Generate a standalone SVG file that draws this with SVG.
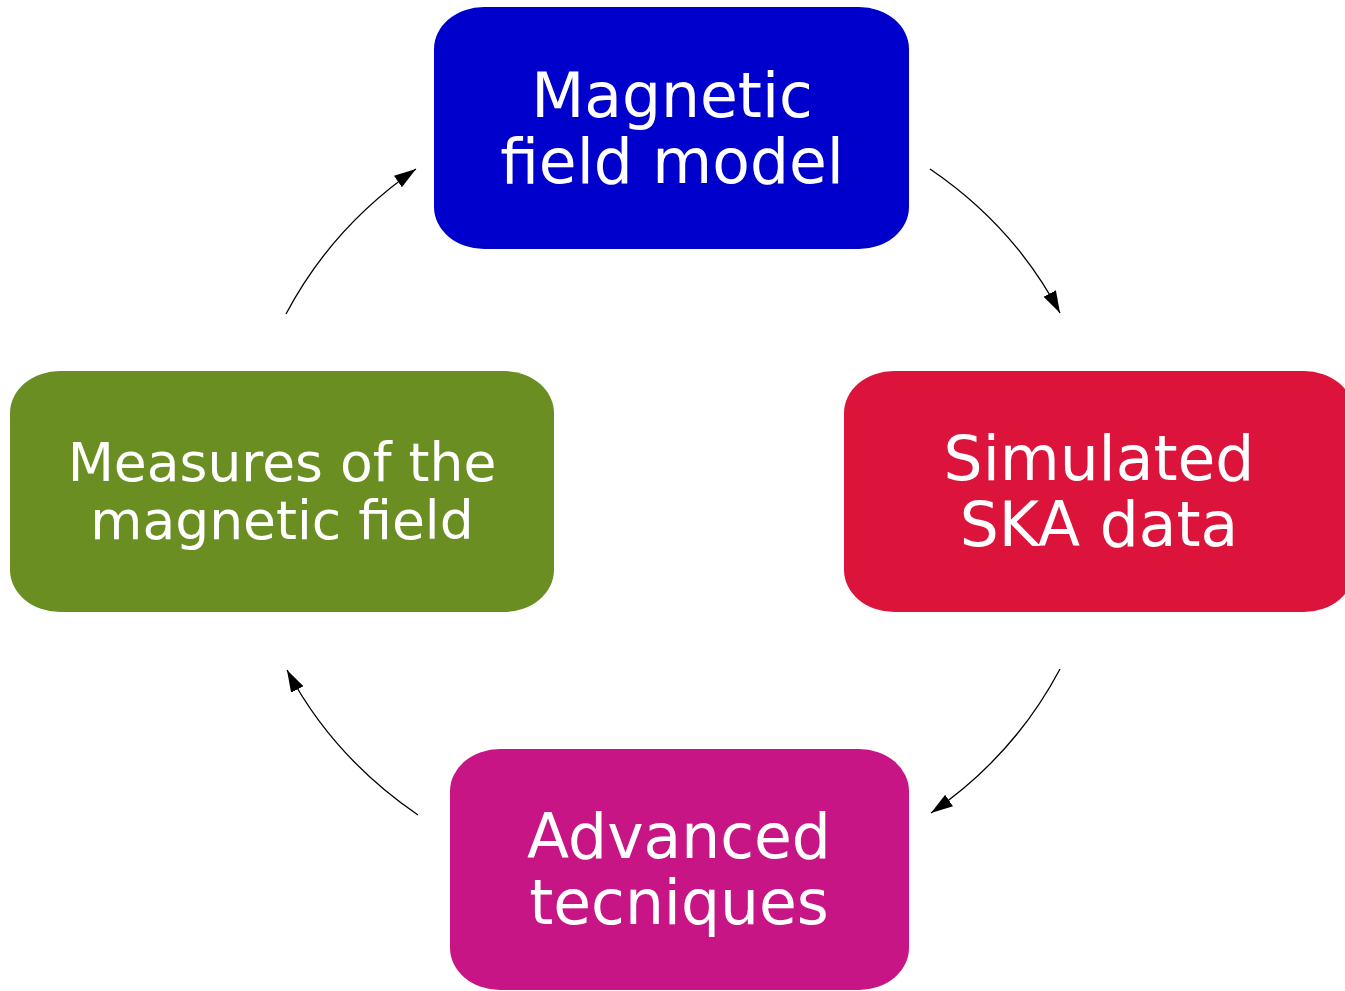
<svg xmlns="http://www.w3.org/2000/svg" width="1345" height="991" viewBox="0 0 1345 991">
<style>
.lbl{font-family:"DejaVu Sans",sans-serif;fill:#ffffff;text-anchor:middle}
.big{font-size:61.5px}
.small{font-size:53.5px}
.conn{fill:none;stroke:#000000;stroke-width:1.3}
</style>
<defs>
<marker id="arrow" markerUnits="userSpaceOnUse" markerWidth="24" markerHeight="16" refX="22" refY="7" orient="auto">
<path d="M0,0 L22,7 L0,14 Z" fill="#000000"/>
</marker>
</defs>
<rect width="1345" height="991" fill="#ffffff"/>
<g id="node-magnetic-model">
<rect x="434" y="7" width="475" height="242" rx="50" ry="42" fill="#0000CC"/>
<text class="lbl big" x="672" y="117">Magnetic</text>
<text class="lbl big" x="672" y="183">field model</text>
</g>
<g id="node-simulated-ska">
<rect x="844" y="371" width="510" height="241" rx="50" ry="42" fill="#DC143C"/>
<text class="lbl big" x="1099" y="480">Simulated</text>
<text class="lbl big" x="1099" y="546">SKA data</text>
</g>
<g id="node-advanced">
<rect x="450" y="749" width="459" height="241" rx="50" ry="42" fill="#C71585"/>
<text class="lbl big" x="679" y="858">Advanced</text>
<text class="lbl big" x="679" y="924">tecniques</text>
</g>
<g id="node-measures">
<rect x="10" y="371" width="544" height="241" rx="50" ry="42" fill="#6B8E23"/>
<text class="lbl small" x="282" y="481">Measures of the</text>
<text class="lbl small" x="282" y="539">magnetic field</text>
</g>
<g id="connectors">
<path class="conn" d="M930,169 Q1014,226 1060,313" marker-end="url(#arrow)"/>
<path class="conn" d="M1060,669 Q1014,756 931,813" marker-end="url(#arrow)"/>
<path class="conn" d="M418,815 Q333,757 287,670" marker-end="url(#arrow)"/>
<path class="conn" d="M286,314 Q332,227 416,169" marker-end="url(#arrow)"/>
</g>
</svg>
